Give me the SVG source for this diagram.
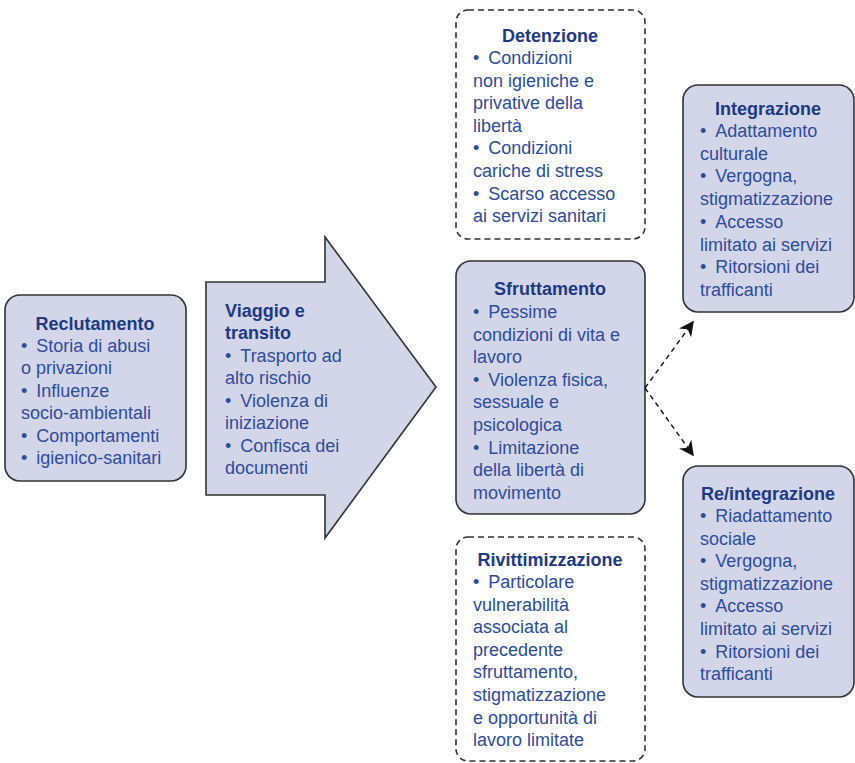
<svg xmlns="http://www.w3.org/2000/svg" width="855" height="763" viewBox="0 0 855 763">
<style>
.box{fill:#d3d5e8;stroke:#333;stroke-width:1.6}
.dbox{fill:#fff;stroke:#333;stroke-width:1.6;stroke-dasharray:6,4}
.t{font-family:"Liberation Sans",Arial,sans-serif;font-size:18px;font-weight:bold;fill:#1c3a84}
.b{font-family:"Liberation Sans",Arial,sans-serif;font-size:18px;fill:#2c4d9c}
.c{fill:none;stroke:#111;stroke-width:1.4;stroke-dasharray:5,4}
</style>
<defs>
<marker id="ah" viewBox="0 0 10 10" refX="9" refY="5" markerWidth="15" markerHeight="15" markerUnits="userSpaceOnUse" orient="auto">
<path d="M0,0 L10,5 L0,10 L3,5 Z" fill="#111"/>
</marker>
</defs>
<rect width="855" height="763" fill="#fff"/>
<g id="reclutamento">
<rect class="box" x="5" y="295" width="181" height="186" rx="15"/>
<text class="t" x="95" y="330" text-anchor="middle">Reclutamento</text>
<text class="b" x="21" y="352"><tspan x="21">•&#8194;Storia di abusi</tspan><tspan x="21" dy="22.4">o privazioni</tspan><tspan x="21" dy="22.4">•&#8194;Influenze</tspan><tspan x="21" dy="22.4">socio-ambientali</tspan><tspan x="21" dy="22.4">•&#8194;Comportamenti</tspan><tspan x="21" dy="22.4">•&#8194;igienico-sanitari</tspan></text>
</g>
<g id="viaggio">
<polygon class="box" points="206,282 325,282 325,237 436,387 325,538 325,495 206,495"/>
<text class="t" x="225" y="317"><tspan x="225">Viaggio e</tspan><tspan x="225" dy="22.4">transito</tspan></text>
<text class="b" x="225" y="362"><tspan x="225">•&#8194;Trasporto ad</tspan><tspan x="225" dy="22.4">alto rischio</tspan><tspan x="225" dy="22.4">•&#8194;Violenza di</tspan><tspan x="225" dy="22.4">iniziazione</tspan><tspan x="225" dy="22.4">•&#8194;Confisca dei</tspan><tspan x="225" dy="22.4">documenti</tspan></text>
</g>
<g id="detenzione">
<rect class="dbox" x="456" y="10" width="189" height="229" rx="12"/>
<text class="t" x="550" y="42" text-anchor="middle">Detenzione</text>
<text class="b" x="473" y="64"><tspan x="473">•&#8194;Condizioni</tspan><tspan x="473" dy="22.6">non igieniche e</tspan><tspan x="473" dy="22.6">privative della</tspan><tspan x="473" dy="22.6">libertà</tspan><tspan x="473" dy="22.6">•&#8194;Condizioni</tspan><tspan x="473" dy="22.6">cariche di stress</tspan><tspan x="473" dy="22.6">•&#8194;Scarso accesso</tspan><tspan x="473" dy="22.6">ai servizi sanitari</tspan></text>
</g>
<g id="sfruttamento">
<rect class="box" x="456" y="261" width="189" height="253" rx="15"/>
<text class="t" x="550" y="295" text-anchor="middle">Sfruttamento</text>
<text class="b" x="473" y="318"><tspan x="473">•&#8194;Pessime</tspan><tspan x="473" dy="22.6">condizioni di vita e</tspan><tspan x="473" dy="22.6">lavoro</tspan><tspan x="473" dy="22.6">•&#8194;Violenza fisica,</tspan><tspan x="473" dy="22.6">sessuale e</tspan><tspan x="473" dy="22.6">psicologica</tspan><tspan x="473" dy="22.6">•&#8194;Limitazione</tspan><tspan x="473" dy="22.6">della libertà di</tspan><tspan x="473" dy="22.6">movimento</tspan></text>
</g>
<g id="rivittimizzazione">
<rect class="dbox" x="456" y="537" width="189" height="224" rx="12"/>
<text class="t" x="550" y="566" text-anchor="middle">Rivittimizzazione</text>
<text class="b" x="473" y="588"><tspan x="473">•&#8194;Particolare</tspan><tspan x="473" dy="22.6">vulnerabilità</tspan><tspan x="473" dy="22.6">associata al</tspan><tspan x="473" dy="22.6">precedente</tspan><tspan x="473" dy="22.6">sfruttamento,</tspan><tspan x="473" dy="22.6">stigmatizzazione</tspan><tspan x="473" dy="22.6">e opportunità di</tspan><tspan x="473" dy="22.6">lavoro limitate</tspan></text>
</g>
<g id="integrazione">
<rect class="box" x="683" y="85" width="171" height="227" rx="15"/>
<text class="t" x="768" y="115" text-anchor="middle">Integrazione</text>
<text class="b" x="700" y="137"><tspan x="700">•&#8194;Adattamento</tspan><tspan x="700" dy="22.7">culturale</tspan><tspan x="700" dy="22.7">•&#8194;Vergogna,</tspan><tspan x="700" dy="22.7">stigmatizzazione</tspan><tspan x="700" dy="22.7">•&#8194;Accesso</tspan><tspan x="700" dy="22.7">limitato ai servizi</tspan><tspan x="700" dy="22.7">•&#8194;Ritorsioni dei</tspan><tspan x="700" dy="22.7">trafficanti</tspan></text>
</g>
<g id="reintegrazione">
<rect class="box" x="683" y="466" width="171" height="231" rx="15"/>
<text class="t" x="768" y="500" text-anchor="middle">Re/integrazione</text>
<text class="b" x="700" y="522"><tspan x="700">•&#8194;Riadattamento</tspan><tspan x="700" dy="22.6">sociale</tspan><tspan x="700" dy="22.6">•&#8194;Vergogna,</tspan><tspan x="700" dy="22.6">stigmatizzazione</tspan><tspan x="700" dy="22.6">•&#8194;Accesso</tspan><tspan x="700" dy="22.6">limitato ai servizi</tspan><tspan x="700" dy="22.6">•&#8194;Ritorsioni dei</tspan><tspan x="700" dy="22.6">trafficanti</tspan></text>
</g>
<g id="connectors">
<path class="c" d="M645,388 L693,322" marker-end="url(#ah)"/>
<path class="c" d="M645,388 L693,455" marker-end="url(#ah)"/>
</g>
</svg>
